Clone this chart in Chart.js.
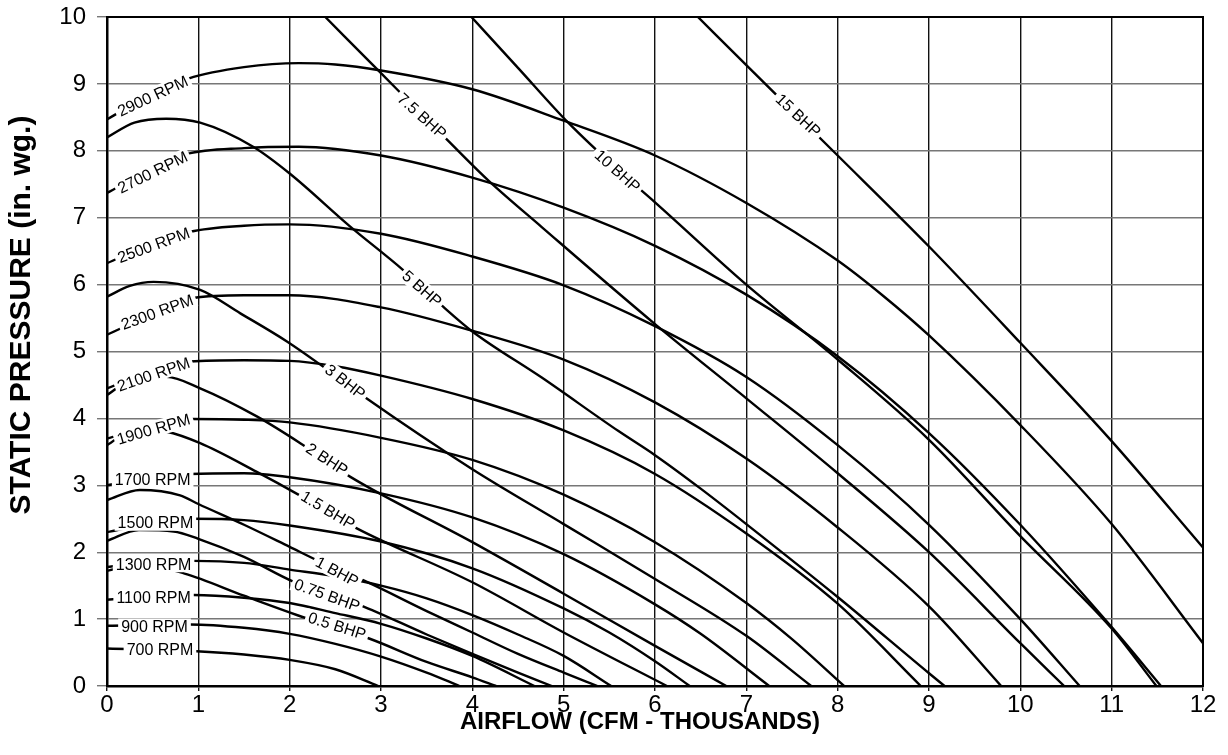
<!DOCTYPE html>
<html>
<head>
<meta charset="utf-8">
<script src="https://cdn.jsdelivr.net/npm/chart.js@4.4.0/dist/chart.umd.min.js"></script>
<style>
  html, body { margin: 0; padding: 0; background: #fff; }
  #wrap { width: 1228px; height: 755px; }
</style>
</head>
<body>
<div id="wrap"><canvas id="fanChart" width="1228" height="755"></canvas></div>
<script>
// Fan curves, constant speed (x = CFM thousands, y = in. wg.)
const rpm2900 = [[0,8.47],[0.45,8.82],[0.89,9.08],[1.5,9.25],[2.1,9.31],[2.5,9.29],[3,9.2],[4,8.92],[5,8.45],[6,7.93],[7,7.22],[8,6.36],[8.5,5.83],[9,5.24],[10,3.9],[11,2.42],[12,0.64]];
const rpm2700 = [[0,7.37],[0.45,7.7],[0.87,7.95],[1.5,8.04],[2.1,8.06],[3,7.93],[4,7.6],[5,7.15],[6,6.58],[7,5.85],[8,4.93],[9,3.78],[10,2.41],[11,0.88],[11.54,0]];
const rpm2500 = [[0,6.32],[0.45,6.58],[0.91,6.79],[1.5,6.88],[2,6.9],[3,6.76],[4,6.42],[5,5.99],[6,5.38],[7,4.62],[8,3.6],[9,2.41],[10,1.0],[10.65,0]];
const rpm2300 = [[0,5.25],[0.48,5.55],[0.95,5.8],[1.5,5.84],[2,5.84],[3,5.66],[4,5.31],[5,4.88],[6,4.24],[7,3.4],[8,2.37],[9,1.19],[9.79,0]];
const rpm2100 = [[0,4.45],[0.45,4.68],[0.91,4.85],[1.5,4.87],[2,4.86],[2.5,4.78],[3,4.64],[4,4.29],[5,3.82],[6,3.17],[7,2.28],[8,1.23],[8.91,0]];
const rpm1900 = [[0,3.7],[0.45,3.87],[0.93,3.99],[1.5,3.98],[2,3.94],[3,3.71],[4,3.38],[5,2.86],[6,2.15],[7,1.24],[7.5,0.7],[8.07,0]];
const rpm1700 = [[0,3.0],[0.45,3.1],[0.91,3.17],[1.5,3.18],[2,3.12],[3,2.88],[4,2.52],[5,1.97],[6,1.22],[6.5,0.78],[7.25,0]];
const rpm1500 = [[0,2.3],[0.45,2.42],[0.93,2.5],[1.5,2.48],[2,2.4],[3,2.16],[4,1.76],[5,1.16],[5.5,0.8],[6,0.37],[6.38,0]];
const rpm1300 = [[0,1.78],[0.47,1.84],[0.95,1.87],[1.5,1.84],[2,1.74],[2.5,1.64],[3,1.5],[3.5,1.31],[4,1.06],[4.5,0.77],[5,0.45],[5.52,0]];
const rpm1100 = [[0,1.29],[0.47,1.34],[0.95,1.36],[1.5,1.32],[2,1.24],[2.5,1.09],[3,0.93],[3.5,0.71],[4,0.45],[4.68,0]];
const rpm900  = [[0,0.9],[0.91,0.92],[1.5,0.87],[2,0.78],[2.5,0.63],[3,0.44],[3.5,0.2],[3.86,0]];
const rpm700  = [[0,0.56],[0.98,0.52],[1.5,0.47],[2,0.39],[2.5,0.25],[2.97,0]];

// Brake horsepower lines
const bhp15  = [[6.47,10],[7,9.28],[8,7.93],[9,6.57],[10,5.13],[11,3.66],[12,2.07]];
const bhp10  = [[3.99,10],[4.5,9.24],[5.05,8.42],[5.59,7.72],[6,7.23],[7,6.0],[8,4.88],[9,3.68],[10,2.24],[11,0.86],[11.49,0]];
const bhp7_5 = [[2.39,10],[3,9.16],[3.45,8.54],[3.72,8.17],[4.18,7.55],[4.76,6.86],[6,5.41],[7,4.3],[8,3.18],[9,2.0],[10,0.64],[10.48,0]];
const bhp5   = [[0,8.2],[0.3,8.42],[0.65,8.48],[1.02,8.42],[1.6,8.06],[2,7.66],[2.66,6.87],[3.24,6.22],[3.68,5.67],[4,5.3],[4.76,4.61],[5.6,3.81],[6,3.45],[6.5,2.95],[7,2.42],[8,1.33],[9,0.19],[9.17,0]];
const bhp3   = [[0,5.82],[0.25,5.98],[0.51,6.04],[1.02,5.92],[1.46,5.57],[1.97,5.15],[2.37,4.77],[2.84,4.3],[4,3.24],[5,2.42],[6,1.6],[7,0.75],[7.71,0]];
const bhp2   = [[0,4.35],[0.3,4.6],[0.65,4.62],[1.02,4.45],[1.64,4.03],[2.15,3.6],[2.66,3.13],[4,2.15],[5,1.38],[6,0.6],[6.78,0]];
const bhp1_5 = [[0,3.6],[0.3,3.83],[0.65,3.8],[1.02,3.63],[1.64,3.2],[2.11,2.85],[2.73,2.36],[4,1.55],[5,0.8],[6.13,0]];
const bhp1   = [[0,2.78],[0.36,2.93],[0.8,2.85],[1.0,2.72],[1.5,2.41],[2,2.08],[2.3,1.88],[2.84,1.56],[3.5,1.12],[4,0.8],[4.5,0.48],[5,0.2],[5.37,0]];
const bhp0_75 = [[0,2.17],[0.35,2.33],[0.73,2.31],[1.0,2.2],[1.5,1.93],[2.04,1.56],[2.77,1.21],[3.5,0.77],[4,0.48],[4.5,0.2],[4.87,0]];
const bhp0_5 = [[0,1.72],[0.35,1.82],[0.85,1.68],[1.5,1.35],[2.19,1.01],[2.87,0.71],[3.5,0.36],[4,0.13],[4.26,0]];

const rpmCurves = [rpm2900, rpm2700, rpm2500, rpm2300, rpm2100, rpm1900, rpm1700, rpm1500, rpm1300, rpm1100, rpm900, rpm700];
const bhpCurves = [bhp15, bhp10, bhp7_5, bhp5, bhp3, bhp2, bhp1_5, bhp1, bhp0_75, bhp0_5];
const rpmNames = ['2900 RPM','2700 RPM','2500 RPM','2300 RPM','2100 RPM','1900 RPM','1700 RPM','1500 RPM','1300 RPM','1100 RPM','900 RPM','700 RPM'];
const bhpNames = ['15 BHP','10 BHP','7.5 BHP','5 BHP','3 BHP','2 BHP','1.5 BHP','1 BHP','0.75 BHP','0.5 BHP'];
const xTitle = 'AIRFLOW (CFM - THOUSANDS)';
const yTitle = 'STATIC PRESSURE (in. wg.)';

// where the in-line labels sit (data units) and their slant in degrees
const rpmSpots = [[0.5,8.82,-25],[0.5,7.68,-26],[0.51,6.59,-20],[0.55,5.59,-20],[0.51,4.66,-19],[0.51,3.84,-16],[0.5,3.08,0],[0.53,2.44,0],[0.51,1.82,0],[0.51,1.32,0],[0.52,0.89,0],[0.58,0.54,0]];
const bhpSpots = [[7.57,8.53,43],[5.59,7.7,42],[3.45,8.52,42],[3.45,5.94,41],[2.61,4.55,38],[2.41,3.39,33],[2.42,2.63,31],[2.52,1.71,28],[2.41,1.36,20],[2.52,0.9,17.5]];

const FONT = '"Liberation Sans", Arial, sans-serif';
const toXY = (pts) => pts.map(([x, y]) => ({ x, y }));
const lineSet = (pts) => ({
  data: toXY(pts),
  borderColor: '#000',
  borderWidth: 2.4,
  pointRadius: 0,
  fill: false,
  cubicInterpolationMode: 'monotone'
});

const frame = {
  id: 'frame',
  afterDatasetsDraw(chart) {
    const { ctx, chartArea: a } = chart;
    ctx.save();
    ctx.strokeStyle = '#000';
    ctx.lineWidth = 2;
    ctx.strokeRect(a.left, a.top, a.right - a.left, a.bottom - a.top);
    ctx.restore();
  }
};

const curveLabels = {
  id: 'curveLabels',
  afterDatasetsDraw(chart) {
    const { ctx, scales: { x, y } } = chart;
    const names = rpmNames.concat(bhpNames);
    const spots = rpmSpots.concat(bhpSpots);
    ctx.save();
    ctx.font = '16px ' + FONT;
    ctx.textAlign = 'center';
    ctx.textBaseline = 'middle';
    spots.forEach(([sx, sy, ang], i) => {
      const w = ctx.measureText(names[i]).width;
      ctx.save();
      ctx.translate(x.getPixelForValue(sx), y.getPixelForValue(sy));
      ctx.rotate(ang * Math.PI / 180);
      ctx.fillStyle = '#fff';
      ctx.fillRect(-w / 2 - 3, -8, w + 6, 16);
      ctx.fillStyle = '#000';
      ctx.fillText(names[i], 0, 1);
      ctx.restore();
    });
    ctx.restore();
  }
};

// axis titles are placed by hand: the original has them off-centre
const axisTitles = {
  id: 'axisTitles',
  afterDraw(chart) {
    const { ctx } = chart;
    ctx.save();
    ctx.fillStyle = '#000';
    ctx.textAlign = 'center';
    ctx.textBaseline = 'middle';
    ctx.font = 'bold 24px ' + FONT;
    ctx.fillText(xTitle, 640, 722);
    ctx.translate(22, 315);
    ctx.rotate(-Math.PI / 2);
    ctx.font = 'bold 30px ' + FONT;
    ctx.fillText(yTitle, 0, 0);
    ctx.restore();
  }
};

new Chart(document.getElementById('fanChart'), {
  type: 'line',
  data: { datasets: rpmCurves.concat(bhpCurves).map(lineSet) },
  options: {
    responsive: false,
    animation: false,
    layout: { padding: { top: 17, right: 25, left: 0, bottom: 0 } },
    plugins: { legend: { display: false }, tooltip: { enabled: false } },
    scales: {
      x: {
        type: 'linear', min: 0, max: 12,
        ticks: { stepSize: 1, color: '#000', padding: 0, font: { family: FONT, size: 24 } },
        grid: { color: '#111', lineWidth: 1.4, tickLength: 5 },
        border: { color: '#000', width: 2.5 },
        afterFit: (s) => { s.height = 69; }
      },
      y: {
        min: 0, max: 10,
        ticks: { stepSize: 1, color: '#000', padding: 11, font: { family: FONT, size: 24 } },
        grid: { color: '#777', lineWidth: 1.4, tickLength: 10 },
        border: { color: '#000', width: 2.5 },
        afterFit: (s) => { s.width = 107; s.paddingTop = 0; s.paddingBottom = 0; }
      }
    }
  },
  plugins: [frame, curveLabels, axisTitles]
});
</script>
</body>
</html>
